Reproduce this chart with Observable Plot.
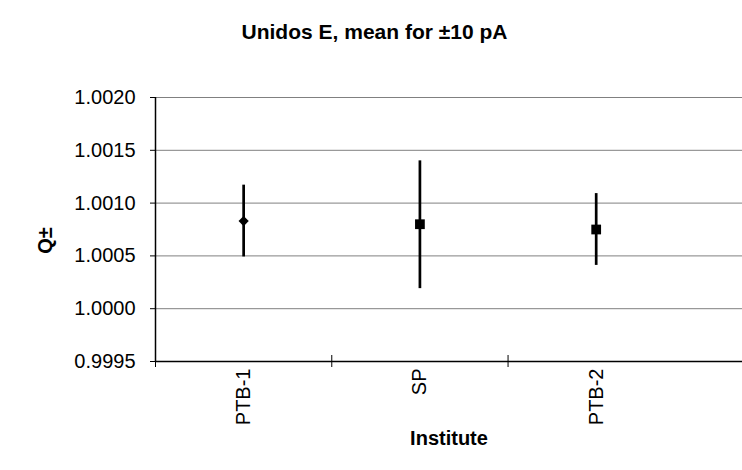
<!DOCTYPE html>
<html>
<head>
<meta charset="utf-8">
<script src="https://cdn.jsdelivr.net/npm/d3@7"></script>
<script src="https://cdn.jsdelivr.net/npm/@observablehq/plot@0.6"></script>
<style>
  html, body { margin: 0; padding: 0; background: white; }
</style>
</head>
<body>
<div id="chart"></div>
<script>
// ---- data ----
const title = "Unidos E, mean for ±10 pA";
const xLabel = "Institute";
const yLabel = "Q±";
const categories = ["PTB-1", "SP", "PTB-2"];
const means = [1.00083, 1.00080, 1.00075];
const lower = [1.00049, 1.00019, 1.00041];
const upper = [1.00117, 1.00140, 1.00109];
const markers = ["diamond", "square", "square"];
const yTicks = [0.9995, 1.0000, 1.0005, 1.0010, 1.0015, 1.0020];

const rows = categories.map((c, i) => ({
  cat: c, pos: i + 0.5, mean: means[i], lo: lower[i], hi: upper[i], marker: markers[i]
}));

// square rotated 45° (Excel-style diamond)
const diamondSym = {
  draw(ctx, size) {
    const r = Math.sqrt(size) * 0.62625;
    ctx.moveTo(0, -r); ctx.lineTo(r, 0); ctx.lineTo(0, r); ctx.lineTo(-r, 0); ctx.closePath();
  }
};

const chart = Plot.plot({
  width: 742,
  height: 470,
  marginTop: 97,
  marginBottom: 109,
  marginLeft: 155,
  marginRight: 0,
  style: { fontFamily: "'Liberation Sans', Arial, sans-serif", fontSize: "20px", background: "white", color: "black" },
  x: { domain: [0, 3.33], axis: null },
  y: { domain: [yTicks[0], yTicks[yTicks.length - 1]] },
  marks: [
    Plot.ruleY(yTicks, { stroke: "#808080", strokeWidth: 1 }),
    Plot.ruleX([0], { stroke: "black", strokeWidth: 1.5 }),
    Plot.ruleY([yTicks[0]], { stroke: "black", strokeWidth: 1.5 }),
    Plot.ruleX([0, 1, 2], { y1: yTicks[0], y2: yTicks[0], insetTop: -6, insetBottom: -6, stroke: "black", strokeWidth: 1 }),
    Plot.axisY({ ticks: yTicks, tickFormat: d3.format(".4f"), tickSize: 5, tickPadding: 15, fontSize: 20, label: null, stroke: "black" }),
    Plot.text(rows, { x: "pos", text: "cat", frameAnchor: "bottom", dy: 7, rotate: -90, textAnchor: "end", lineAnchor: "middle", fontSize: 20 }),
    Plot.ruleX(rows, { x: "pos", y1: "lo", y2: "hi", stroke: "black", strokeWidth: 2.7 }),
    Plot.dot(rows.filter(d => d.marker === "diamond"), { x: "pos", y: "mean", symbol: diamondSym, r: 4.6, fill: "black", stroke: "none" }),
    Plot.dot(rows.filter(d => d.marker === "square"), { x: "pos", y: "mean", symbol: "square", r: 5.5, fill: "black", stroke: "none" }),
    Plot.text([title], { frameAnchor: "top-left", dx: 219, dy: -65, textAnchor: "middle", lineAnchor: "middle", fontWeight: "bold", fontSize: 21 }),
    Plot.text([yLabel], { frameAnchor: "left", dx: -110, dy: 11, rotate: -90, textAnchor: "middle", lineAnchor: "middle", fontWeight: "bold", fontSize: 20 }),
    Plot.text([xLabel], { frameAnchor: "bottom", dy: 77, textAnchor: "middle", lineAnchor: "middle", fontWeight: "bold", fontSize: 20 })
  ]
});
document.getElementById("chart").appendChild(chart);
</script>
</body>
</html>
